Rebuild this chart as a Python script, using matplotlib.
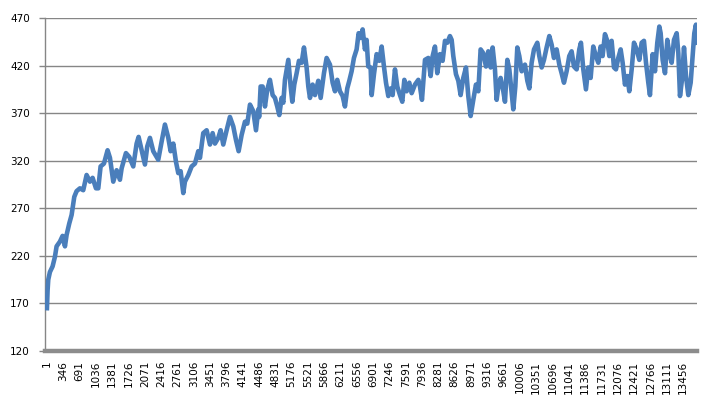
import numpy as np
import matplotlib
matplotlib.use("Agg")
import matplotlib.pyplot as plt

# values (index, value)
idx = [1, 15, 29, 64, 121, 170, 205, 276, 332, 382, 417, 473, 523, 579, 628, 699, 769, 840, 911, 967,
       1038, 1087, 1136, 1207, 1284, 1334, 1404, 1475, 1545, 1581, 1672, 1743, 1827, 1898, 1940, 2004,
       2074, 2123, 2180,
       2250, 2356, 2427, 2497, 2568, 2617, 2674, 2730, 2779, 2829, 2885, 2920, 2991, 3062, 3132, 3202,
       3238, 3308, 3379, 3449, 3506, 3555, 3625, 3675, 3731, 3802, 3872, 3943, 3999, 4056, 4119, 4190,
       4239, 4296, 4366, 4423, 4472, 4490, 4521,
       4563, 4613, 4662, 4718, 4775, 4824, 4873, 4916, 4965, 5001, 5036, 5107, 5156, 5191, 5233, 5283,
       5332, 5389, 5438, 5494, 5530, 5565, 5621, 5671, 5741, 5791, 5861, 5917, 5988, 6044, 6094, 6143,
       6199, 6256, 6305, 6354, 6397, 6446, 6495, 6552, 6594, 6636, 6679, 6728, 6763, 6798, 6848,
       6870, 6919, 6975, 7032, 7081, 7130, 7173, 7222, 7271, 7314, 7363, 7412, 7469, 7518, 7561, 7610,
       7666, 7716, 7786, 7857, 7892, 7934, 7998, 8068, 8118, 8160, 8209, 8258, 8315, 8371, 8421, 8470,
       8526, 8562, 8597, 8653, 8703, 8752, 8808, 8865, 8914, 8964, 9020, 9076, 9126, 9175, 9231, 9288,
       9337, 9387,
       9429, 9478, 9514, 9549, 9598, 9655, 9690, 9740, 9782, 9831, 9866, 9909, 9951, 9993, 10043, 10113,
       10163, 10205, 10254, 10304, 10374, 10416, 10466, 10515, 10571, 10628, 10677, 10726, 10783, 10839,
       10888, 10938, 10994, 11050, 11100, 11149, 11206, 11262, 11297, 11347, 11403, 11452, 11502, 11558,
       11614, 11664,
       11713, 11755, 11805, 11854, 11897, 11946, 11996, 12038, 12087, 12137, 12179, 12228, 12278, 12320,
       12370, 12419, 12475, 12532, 12581, 12630, 12673, 12722, 12757, 12814, 12863, 12912, 12955, 12983,
       13025, 13075, 13124, 13166, 13216, 13265, 13322, 13357, 13392, 13434, 13477, 13519, 13568, 13618,
       13660, 13695, 13730, 13744]
vals = [165, 184, 195, 203, 209, 219, 230, 235, 241, 230, 242, 254, 263, 282, 288, 291, 289, 305, 298, 302,
        291, 291, 314, 317, 331, 323, 298, 310, 300, 312, 328, 324, 314, 338, 345, 331,
        316, 335, 344,
        330, 321, 340, 358, 344, 330, 338, 319, 307, 309, 286, 298, 305, 314, 317, 330,
        323, 349, 352, 337, 349, 338, 344, 352, 337, 352, 366, 356, 342, 330, 347, 361,
        359, 379, 372, 352, 374, 366, 398,
        398, 377, 395, 405, 389, 386, 377, 368, 386, 381, 405, 426, 398, 382, 400, 412,
        425, 423, 439, 418, 398, 386, 400, 389, 404, 386, 412, 428, 421, 402, 393, 405,
        393, 388, 377, 396, 404, 414, 428, 437, 454, 449, 458, 437, 447, 419, 418,
        389, 411, 432, 425, 440, 419, 402, 388, 396, 389, 416, 398, 389, 382, 405, 393,
        402, 391, 400, 405, 398, 384, 426, 428, 409, 430, 440, 412, 432, 425, 446, 444,
        451, 447, 430, 411, 404, 389, 407, 418, 388, 367, 384, 400, 393, 437, 433, 419,
        435, 418,
        439, 416, 384, 398, 407, 393, 382, 426, 416, 391, 374, 398, 439, 430, 414, 421,
        404, 396, 423, 437, 444, 430, 418, 426, 439, 451, 442, 428, 437, 421,
        412, 402, 414, 430, 435, 419, 416, 437, 444, 416, 395, 418, 407, 440,
        430, 423,
        440, 430, 453, 446, 430, 446, 418, 416, 428, 437, 423, 400, 409, 393,
        416, 444, 437, 426, 444, 446, 423, 402, 389, 432, 414, 444, 461, 454,
        426, 412, 447, 433, 423, 447, 454, 433, 388, 405, 439, 409, 389, 402,
        430, 454, 463, 444]

xticks = list(range(1, 13457, 345))
yticks = [120, 170, 220, 270, 320, 370, 420, 470]

grid_col = "#868686"

fig = plt.figure(figsize=(7.19, 4.05), dpi=100)
ax = fig.add_axes([45 / 719, 1 - 351 / 405, (697 - 45) / 719, (351 - 18) / 405])

ax.plot(idx, vals, color="#4A7EBB", linewidth=3.3, solid_joinstyle="round", zorder=3)

ax.set_xlim(-40, 13752)
ax.set_ylim(120, 470)
ax.set_yticks(yticks)
ax.set_xticks(xticks)
ax.set_xticklabels([str(t) for t in xticks], rotation=90, va="top", ha="center")
ax.yaxis.grid(True, color=grid_col, linewidth=1.0)
ax.set_axisbelow(True)

for s in ["top", "right"]:
    ax.spines[s].set_visible(False)
ax.spines["left"].set_color(grid_col)
ax.spines["left"].set_linewidth(1.0)
ax.spines["bottom"].set_color("#8c8c8c")
ax.spines["bottom"].set_linewidth(3.2)

ax.tick_params(axis="y", length=4, width=1, color=grid_col, pad=7, labelsize=7.5)
ax.tick_params(axis="x", length=0, pad=7, labelsize=7.5)

fig.savefig("out.png", dpi=100)
